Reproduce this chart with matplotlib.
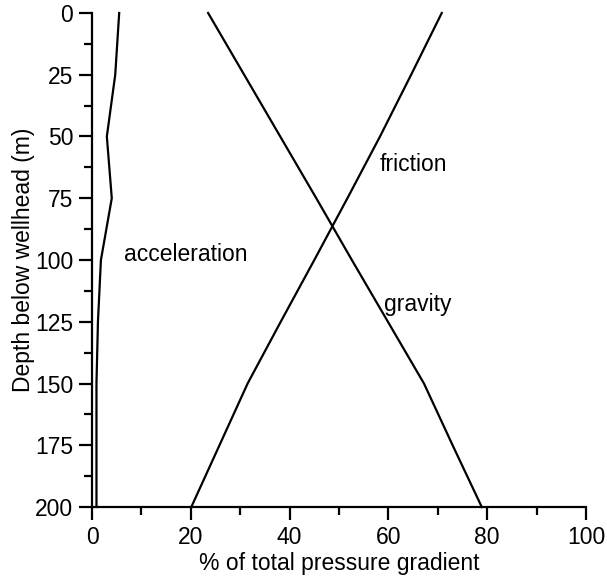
import matplotlib
matplotlib.use("Agg")
import matplotlib.pyplot as plt
from matplotlib.ticker import MultipleLocator

plt.rcParams['font.family'] = ['Liberation Sans', 'DejaVu Sans']

# depth below wellhead (m)
depth = [0, 25, 50, 75, 100, 125, 150, 175, 200]

# % of total pressure gradient
acceleration = [5.5, 4.7, 3.0, 4.0, 1.8, 1.2, 0.9, 0.9, 0.9]
gravity = [23.5, 30.8, 38.1, 45.4, 52.6, 59.9, 67.2, 73.0, 78.9]
friction = [70.8, 64.6, 58.3, 51.7, 45.0, 38.2, 31.5, 25.8, 20.1]

curve_labels = ["acceleration", "friction", "gravity"]

fig = plt.figure(figsize=(6.07, 5.77), dpi=100)
ax = fig.add_axes([0.1516, 0.1213, 0.8138, 0.8562])

for vals in [acceleration, gravity, friction]:
    ax.plot(vals, depth, color='black', lw=1.6, clip_on=False)

fs = 16.5
ax.text(6.5, 97.6, curve_labels[0], fontsize=fs, va='center', ha='left')
ax.text(58.3, 61.5, curve_labels[1], fontsize=fs, va='center', ha='left')
ax.text(59.2, 118, curve_labels[2], fontsize=fs, va='center', ha='left')

ax.set_xlim(0, 100)
ax.set_ylim(200, 0)
ax.xaxis.set_major_locator(MultipleLocator(20))
ax.xaxis.set_minor_locator(MultipleLocator(10))
ax.yaxis.set_major_locator(MultipleLocator(25))
ax.yaxis.set_minor_locator(MultipleLocator(12.5))

for s in ['top', 'right']:
    ax.spines[s].set_visible(False)
for s in ['left', 'bottom']:
    ax.spines[s].set_linewidth(1.6)

ax.tick_params(which='major', length=9.5, width=1.6, labelsize=fs, pad=4)
ax.tick_params(which='minor', length=6, width=1.6)

ax.set_xlabel("% of total pressure gradient", fontsize=fs, labelpad=2)
ax.set_ylabel("Depth below wellhead (m)", fontsize=fs, labelpad=0)

fig.savefig("out.png", dpi=100)
